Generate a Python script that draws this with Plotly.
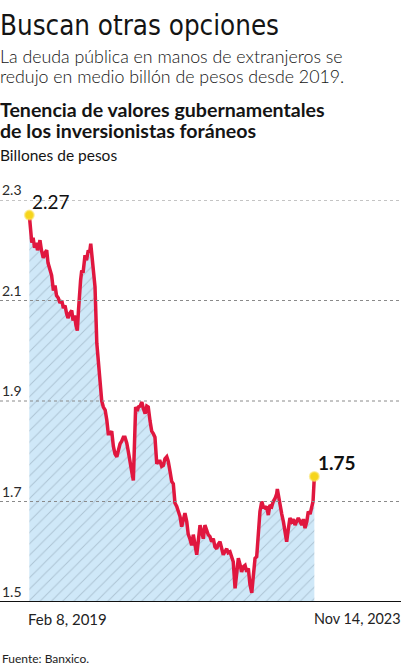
import pandas as pd
import plotly.graph_objects as go

# foreign holdings of government securities, trillions of pesos
start_date = "2019-02-08"
end_date = "2023-11-14"

day_offsets = [
    0, 7, 15, 23, 32, 41, 50, 59, 65, 74, 85, 96, 106, 114, 126, 136, 147, 157, 166, 177,
    187, 198, 208, 218, 227, 236, 248, 259, 267, 276, 285, 293, 300, 305, 313, 320, 328, 340, 349, 360,
    368, 375, 383, 391, 401, 412, 421, 432, 442, 452, 463, 473, 482, 493, 503, 513, 523, 534, 543, 554,
    564, 574, 584, 595, 604, 615, 625, 635, 642, 649, 659, 666, 677, 687, 696, 707, 717, 726, 737, 747,
    757, 767, 778, 787, 798, 808, 818, 828, 839, 848, 859, 869, 879, 889, 900, 909, 920, 930, 940, 950,
    961, 970, 981, 991, 1001, 1011, 1022, 1031, 1042, 1052, 1062, 1072, 1083, 1092, 1103, 1113, 1123, 1133, 1144, 1153,
    1164, 1174, 1184, 1194, 1205, 1214, 1225, 1235, 1245, 1256, 1266, 1276, 1286, 1296, 1306, 1317, 1327, 1337, 1347, 1358,
    1367, 1378, 1388, 1398, 1408, 1419, 1428, 1439, 1449, 1459, 1469, 1480, 1489, 1500, 1510, 1514, 1521, 1530, 1541, 1551,
    1561, 1571, 1581, 1591, 1602, 1612, 1622, 1632, 1642, 1653, 1663, 1673, 1683, 1694, 1703, 1714, 1724, 1732, 1740,
]

values = [
    2.27, 2.24, 2.215, 2.225, 2.205, 2.215, 2.20, 2.21, 2.22, 2.20, 2.185, 2.195, 2.20, 2.175, 2.16, 2.15, 2.12, 2.13, 2.11, 2.105,
    2.095, 2.10, 2.085, 2.09, 2.075, 2.065, 2.075, 2.08, 2.06, 2.07, 2.05, 2.04, 2.08, 2.115, 2.14, 2.16, 2.155, 2.19, 2.18, 2.20,
    2.195, 2.213, 2.19, 2.165, 2.127, 2.015, 1.975, 1.948, 1.90, 1.888, 1.882, 1.862, 1.835, 1.835, 1.84, 1.81, 1.795, 1.789, 1.80, 1.815,
    1.82, 1.828, 1.828, 1.816, 1.80, 1.775, 1.76, 1.742, 1.80, 1.888, 1.88, 1.888, 1.89, 1.898, 1.885, 1.875, 1.89, 1.888, 1.86, 1.84,
    1.835, 1.828, 1.775, 1.78, 1.78, 1.77, 1.772, 1.785, 1.789, 1.78, 1.76, 1.74, 1.735, 1.697, 1.69, 1.68, 1.67, 1.65, 1.665, 1.677,
    1.66, 1.635, 1.625, 1.613, 1.634, 1.615, 1.594, 1.62, 1.653, 1.64, 1.626, 1.653, 1.64, 1.634, 1.63, 1.62, 1.626, 1.61, 1.606, 1.615,
    1.62, 1.605, 1.594, 1.60, 1.606, 1.598, 1.60, 1.59, 1.58, 1.527, 1.555, 1.587, 1.575, 1.56, 1.57, 1.573, 1.56, 1.567, 1.535, 1.518,
    1.55, 1.587, 1.59, 1.65, 1.68, 1.70, 1.69, 1.687, 1.69, 1.673, 1.693, 1.69, 1.70, 1.706, 1.715, 1.725, 1.71, 1.693, 1.675, 1.66,
    1.64, 1.62, 1.645, 1.667, 1.66, 1.665, 1.653, 1.66, 1.667, 1.66, 1.653, 1.665, 1.647, 1.66, 1.68, 1.675, 1.687, 1.70, 1.75,
]

y_ticks = [1.5, 1.7, 1.9, 2.1, 2.3]
y_tick_labels = ["1.5", "1.7", "1.9", "2.1", "2.3"]
date_labels = ["Feb 8, 2019", "Nov 14, 2023"]

dates = pd.Timestamp(start_date) + pd.to_timedelta(day_offsets, unit="D")

red = "#e0173f"
yellow = "#f6d51b"
text_font = "Lato"
title_font = "Liberation Sans Narrow, DejaVu Sans Condensed, sans-serif"

fig = go.Figure()

# shaded area under the series
fig.add_trace(go.Scatter(
    x=dates, y=values, mode="lines",
    line=dict(color=red, width=3.5),
    fill="tozeroy",
    fillcolor="#cfe8f8",
    fillpattern=dict(shape="/", bgcolor="#cfe8f8", fgcolor="#8a9fb0",
                     size=8, solidity=0.12),
    hoverinfo="skip",
))

# first and last points
fig.add_trace(go.Scatter(
    x=[dates[0], dates[-1]], y=[values[0], values[-1]], mode="markers",
    marker=dict(color=yellow, size=9, line=dict(color="rgba(250,225,90,0.6)", width=2)),
    cliponaxis=False, hoverinfo="skip",
))

annotations = []
for v, lab in zip(y_ticks, y_tick_labels):
    annotations.append(dict(
        x=0, xref="paper", y=v, yref="y", xanchor="left", yanchor="bottom",
        text=lab, showarrow=False, yshift=0,
        font=dict(family=text_font, size=14, color="#2a2a2a"),
    ))

# heading lines: (text, yshift above plot top, size, family, bold)
head_lines = [
    ("Buscan otras opciones", 192, 27.5, title_font, False),
    ("La deuda pública en manos de extranjeros se", 156, 17.8, text_font, False),
    ("redujo en medio billón de pesos desde 2019.", 136, 17.8, text_font, False),
    ("Tenencia de valores gubernamentales", 103, 19.6, text_font, True),
    ("de los inversionistas foráneos", 82, 19.6, text_font, True),
    ("Billones de pesos", 55, 15.5, text_font, False),
]
for txt, ys, size, fam, bold in head_lines:
    annotations.append(dict(
        x=0, y=1, xref="paper", yref="paper", yshift=ys, xshift=-1,
        text=f"<b>{txt}</b>" if bold else txt, showarrow=False,
        xanchor="left", yanchor="top", borderpad=0,
        font=dict(family=fam, size=size, color="#141414",
                  weight=300 if size == 17.8 else None),
    ))

annotations += [
    dict(x=dates[0], y=values[0], xref="x", yref="y", text=f"{values[0]:.2f}",
         showarrow=False, xanchor="left", yanchor="bottom", xshift=1, yshift=0,
         font=dict(family=text_font, size=19, color="#111111")),
    dict(x=dates[-1], y=values[-1], xref="x", yref="y", text=f"<b>{values[-1]:.2f}</b>",
         showarrow=False, xanchor="left", yanchor="bottom", xshift=2, yshift=0,
         font=dict(family=text_font, size=19, color="#111111")),
    dict(x=dates[0], y=0, xref="x", yref="paper", text=date_labels[0],
         showarrow=False, xanchor="left", yanchor="top", xshift=-3, yshift=-6,
         font=dict(family=text_font, size=15, color="#222222")),
    dict(x=dates[-1], y=0, xref="x", yref="paper", text=date_labels[1],
         showarrow=False, xanchor="left", yanchor="top", xshift=-2, yshift=-6,
         font=dict(family=text_font, size=14.4, color="#222222")),
    dict(x=0, y=0, xref="paper", yref="paper", yshift=-47,
         text="Fuente: Banxico.", showarrow=False, xanchor="left", yanchor="top",
         font=dict(family=text_font, size=12, color="#222222")),
]

# dotted gridlines and solid baseline at 1.5
shapes = []
for v in y_ticks[1:]:
    shapes.append(dict(type="line", xref="paper", yref="y", x0=0, x1=1, y0=v, y1=v,
                       line=dict(color="#8a8a8a", width=1, dash="dot"), layer="above"))
shapes.append(dict(type="line", xref="paper", yref="y", x0=0, x1=1, y0=1.5, y1=1.5,
                   line=dict(color="#111111", width=2)))

x0 = pd.Timestamp(start_date) - pd.Timedelta(days=179)
x1 = pd.Timestamp(start_date) + pd.Timedelta(days=2269)

fig.update_layout(
    width=401, height=666,
    margin=dict(l=0, r=0, t=200, b=64),
    paper_bgcolor="white", plot_bgcolor="white",
    showlegend=False,
    xaxis=dict(range=[x0, x1], showgrid=False, showticklabels=False,
               zeroline=False, showline=False, fixedrange=True),
    yaxis=dict(range=[1.5, 2.3], showgrid=False, showticklabels=False,
               zeroline=False, showline=False, fixedrange=True),
    annotations=annotations,
    shapes=shapes,
)

# drop the browser's default body margin so the figure sits at the page corner
fig.write_html("out.html", config={"displayModeBar": False},
               post_script="document.body.style.margin='0';")
